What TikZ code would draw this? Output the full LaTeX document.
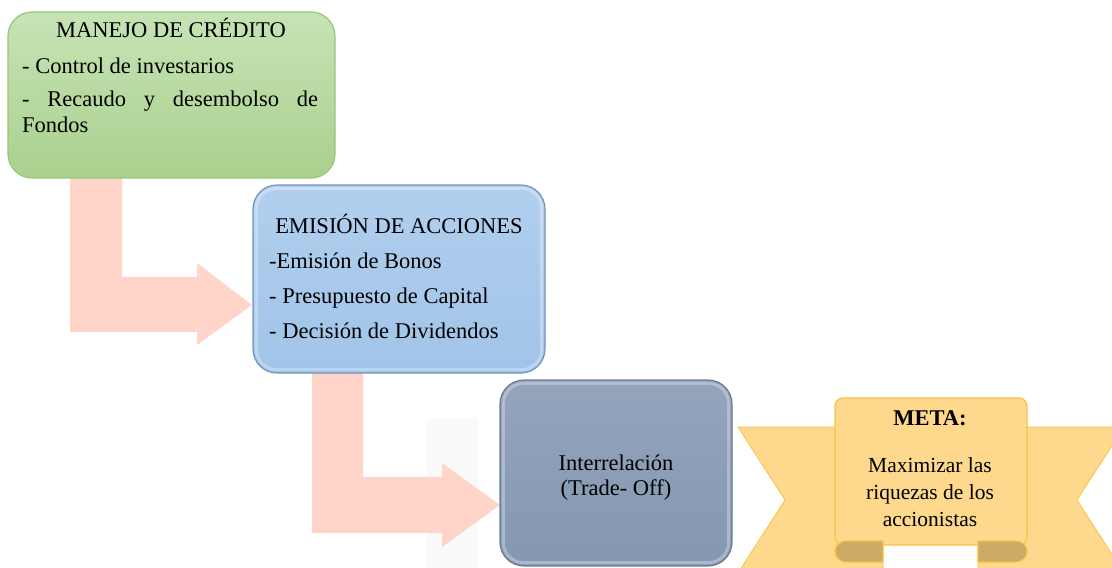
\documentclass[tikz,border=0pt]{standalone}
\usepackage{fontspec}
\setmainfont{Liberation Serif}
\usepackage{tikz}

\definecolor{greentop}{HTML}{C6E3B5}
\definecolor{greenbot}{HTML}{A9D18E}
\definecolor{greenedge}{HTML}{98C67C}
\definecolor{bluetop}{HTML}{B2CFEE}
\definecolor{bluebot}{HTML}{A0C4E8}
\definecolor{blueedge}{HTML}{7394BE}
\definecolor{greytop}{HTML}{93A4BB}
\definecolor{greybot}{HTML}{8598B1}
\definecolor{greyedge}{HTML}{6A7C94}
\definecolor{arrowpink}{HTML}{FFD5C9}
\definecolor{ribbonfill}{HTML}{FED88C}
\definecolor{ribbonedge}{HTML}{F7C443}
\definecolor{ribbonfold}{HTML}{CDAA66}
\definecolor{paleback}{HTML}{FAFAFA}

\begin{document}
\begin{tikzpicture}[x=1pt,y=-1pt]
                    \useasboundingbox (0,0) rectangle (1112,568);
                    \clip (0,0) rectangle (1112,568);
                    \fill[paleback] (427,418) rectangle (478,568);
                    % bent arrows
                    \fill[arrowpink] (70,178) -- (122,178) -- (122,277) -- (197,277) -- (197,263) -- (252,305) -- (197,345) -- (197,332) -- (70,332) -- cycle;
                    \fill[arrowpink] (312,373) -- (363,373) -- (363,477) -- (442,477) -- (442,463) -- (500,505) -- (442,547) -- (442,533) -- (312,533) -- cycle;
                    % ribbon wings
                    \begin{scope}[every path/.style={fill=ribbonfill,draw=ribbonedge,line width=0.8pt}]
                        \draw (883,427) -- (738,427) -- (785,500) -- (738,573) -- (883,573) -- cycle;
                        \draw (978,427) -- (1124,427) -- (1077,500) -- (1124,573) -- (978,573) -- cycle;
                    \end{scope}
                    \begin{scope}[every node/.style={draw,rounded corners=24pt,inner sep=0pt,line width=1.2pt}]
                        \node[top color=greentop,bottom color=greenbot,draw=greenedge,minimum width=327pt,minimum height=166pt] (credito) at (171.5,95) {};
                        \node[top color=bluetop,bottom color=bluebot,draw=blueedge,minimum width=292pt,minimum height=188pt] (acciones) at (399,279) {};
                        \node[top color=greytop,bottom color=greybot,draw=greyedge,minimum width=232pt,minimum height=186pt] (trade) at (616,473) {};
                        \node[fill=ribbonfill,draw=ribbonedge,rounded corners=8pt,minimum width=192pt,minimum height=147pt] (meta) at (931,471.5) {};
                    \end{scope}
                    % bevel
                    \begin{scope}[every path/.style={draw=white,opacity=0.3,line width=3pt,rounded corners=20pt}]
                        \draw ([shift={(4pt,-4pt)}]acciones.north west) rectangle ([shift={(-4pt,4pt)}]acciones.south east);
                        \draw ([shift={(4pt,-4pt)}]trade.north west) rectangle ([shift={(-4pt,4pt)}]trade.south east);
                    \end{scope}
                    % ribbon folds
                    \begin{scope}[every path/.style={fill=ribbonfold,draw=ribbonedge,line width=1.2pt}]
                        \draw (883,541) -- (847,541) .. controls (831,541) and (831,562) .. (847,562) -- (883,562) -- cycle;
                        \draw (978,541) -- (1015,541) .. controls (1031,541) and (1031,562) .. (1015,562) -- (978,562) -- cycle;
                    \end{scope}
                    \begin{scope}[every node/.style={inner sep=0pt,font=\fontsize{22.5}{27}\selectfont}]
                        \node[anchor=base] (credTitle) at (171,37) {MANEJO DE CRÉDITO};
                        \node[anchor=base west] (credA) at (22,73) {- Control de investarios};
                        \node[anchor=base west] (credB) at (22,106) {\makebox[296pt][s]{- Recaudo y desembolso de}};
                        \node[anchor=base west] (credC) at (22,132) {Fondos};
                        \node[anchor=base] (accTitle) at (399,233) {EMISIÓN DE ACCIONES};
                        \node[anchor=base west] (accA) at (269,268) {-Emisión de Bonos};
                        \node[anchor=base west] (accB) at (269,303) {- Presupuesto de Capital};
                        \node[anchor=base west] (accC) at (269,338) {- Decisión de Dividendos};
                        \node[anchor=base] (tradeA) at (616,470) {Interrelación};
                        \node[anchor=base] (tradeB) at (616,495) {(Trade- Off)};
                        \node[anchor=base,font=\fontsize{22.5}{27}\selectfont\bfseries] (metaTitle) at (930,425) {META:};
                        \node[anchor=base,font=\fontsize{21.5}{26}\selectfont] (metaA) at (930,472) {Maximizar las};
                        \node[anchor=base,font=\fontsize{21.5}{26}\selectfont] (metaB) at (930,499) {riquezas de los};
                        \node[anchor=base,font=\fontsize{21.5}{26}\selectfont] (metaC) at (930,526) {accionistas};
                    \end{scope}
                \end{tikzpicture}
\end{document}
